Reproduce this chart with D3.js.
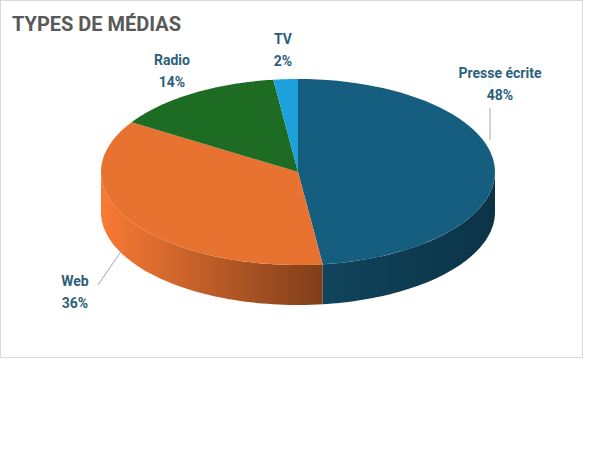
<!DOCTYPE html>
<html><head><meta charset="utf-8">
<script src="https://cdn.jsdelivr.net/npm/d3@7"></script>
<style>body{margin:0;background:#fff}</style></head>
<body><svg id="c" width="595" height="467"></svg>
<script>
const categories=["Presse écrite","Web","Radio","TV"];
const values=[48,36,14,2];
const colors=["#165e80","#e87230","#1e6b23","#1da1dc"];
const labelPos=[[500,78],[75,286],[172,65],[283,44]];

const svg=d3.select("#c");
svg.append("rect").attr("x",0.5).attr("y",0.5).attr("width",582).attr("height",357).attr("fill","#fff").attr("stroke","#d9d9d9");
svg.append("text").attr("x",12).attr("y",31).text("TYPES DE MÉDIAS").attr("font-family","Roboto, Arial").attr("font-weight","bold").attr("font-size",20).attr("fill","#595959");

const cx=298,cy=172,rx=197,ry=93,depth=40;
const arcs=d3.pie().sort(null)(values);
const P=(a,dy=0)=>[cx+rx*Math.sin(a),cy-ry*Math.cos(a)+dy];
const defs=svg.append("defs");
colors.forEach((c,i)=>{
  const g=defs.append("linearGradient").attr("id","g"+i).attr("x1","0").attr("x2","1");
  g.append("stop").attr("offset","0").attr("stop-color",i===0?d3.color(c).darker(0.9):d3.color(c).brighter(0.2));
  g.append("stop").attr("offset","1").attr("stop-color",d3.color(c).darker(1.7));
});
function edge(a0,a1,dy){const n=60,pts=[];for(let k=0;k<=n;k++)pts.push(P(a0+(a1-a0)*k/n,dy));return pts;}
arcs.forEach((d,i)=>{
  const a0=Math.max(d.startAngle,Math.PI/2),a1=Math.min(d.endAngle,3*Math.PI/2);
  if(a1<=a0)return;
  svg.append("path").attr("d",d3.line()(edge(a0,a1,0).concat(edge(a1,a0,depth)))+"Z").attr("fill","url(#g"+i+")");
});
arcs.forEach((d,i)=>{
  const pts=[[cx,cy]].concat(edge(d.startAngle,d.endAngle,0));
  svg.append("path").attr("d",d3.line()(pts)+"Z").attr("fill",colors[i]);
});
svg.append("path").attr("d","M490,108L490,140").attr("stroke","#a6a6a6").attr("fill","none");
svg.append("path").attr("d","M98,285L122,250").attr("stroke","#a6a6a6").attr("fill","none");
categories.forEach((c,i)=>{
  const t=svg.append("text").attr("x",labelPos[i][0]).attr("y",labelPos[i][1]).attr("text-anchor","middle")
    .attr("font-family","Roboto, Arial").attr("font-weight","bold").attr("font-size",14).attr("fill","#2d5f7c");
  t.append("tspan").attr("x",labelPos[i][0]).text(c);
  t.append("tspan").attr("x",labelPos[i][0]).attr("dy",22).text(values[i]+"%");
});
</script></body></html>
